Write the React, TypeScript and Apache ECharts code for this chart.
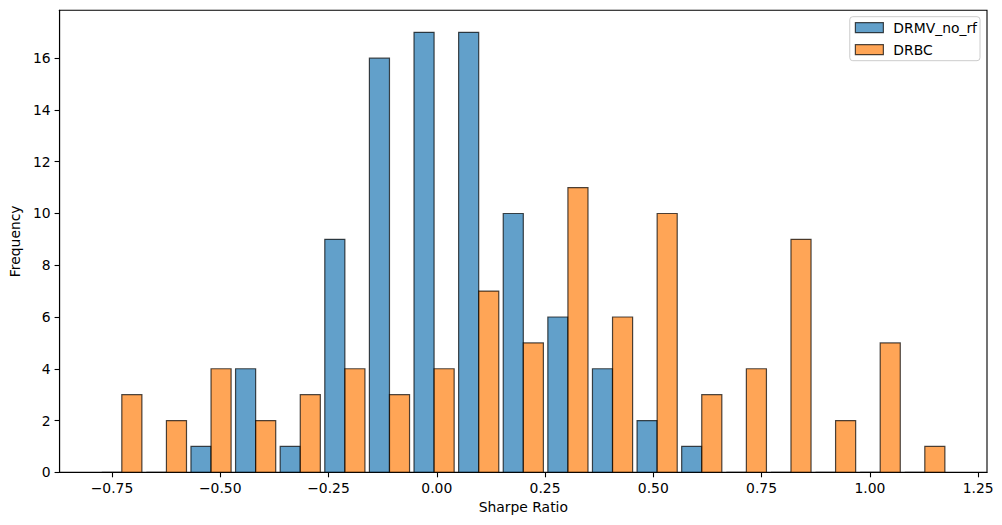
import React, { useEffect, useRef } from "react";
import * as echarts from "echarts";

// Histogram bins (Sharpe Ratio), 19 bins
const binStart = -0.7788;
const binWidth = 0.10301;
const drmvCounts = [0, 0, 1, 4, 1, 9, 16, 17, 17, 10, 6, 4, 2, 1, 0, 0, 0, 0, 0];
const drbcCounts = [3, 2, 4, 2, 3, 4, 3, 4, 7, 5, 11, 6, 10, 3, 4, 9, 2, 5, 1];
const xTicks = [-0.75, -0.5, -0.25, 0, 0.25, 0.5, 0.75, 1.0, 1.25];
const yTicks = [0, 2, 4, 6, 8, 10, 12, 14, 16];
const seriesNames = ["DRMV_no_rf", "DRBC"];

const FONT = "DejaVu Sans";
const FS = 13.9;
const blueFill = "rgba(31,119,180,0.7)";
const orangeFill = "rgba(255,127,14,0.7)";
const edge = "rgba(0,0,0,0.7)";

function barData(counts: number[], which: number) {
  return counts.map((c, i) => {
    const left = binStart + i * binWidth;
    const a = which === 0 ? left + 0.05 * binWidth : left + 0.5 * binWidth;
    const b = which === 0 ? left + 0.5 * binWidth : left + 0.95 * binWidth;
    return [a, b, c];
  });
}

function makeRender(fill: string) {
  return (params: any, api: any) => {
    const p0 = api.coord([api.value(0), api.value(2)]);
    const p1 = api.coord([api.value(1), 0]);
    return {
      type: "rect",
      shape: { x: p0[0], y: p0[1], width: p1[0] - p0[0], height: p1[1] - p0[1] },
      style: { fill, stroke: edge, lineWidth: 1.2 },
    };
  };
}

export default function App() {
  const ref = useRef<HTMLDivElement>(null);
  useEffect(() => {
    if (!ref.current) return;
    const chart = echarts.init(ref.current, null, { renderer: "svg" });
    const fmt = (v: number) => {
      const s = Math.abs(v).toFixed(2);
      return v < 0 ? "\u2212" + s : s;
    };
    chart.setOption({
      animation: false,
      backgroundColor: "#ffffff",
      textStyle: { fontFamily: FONT },
      grid: {
        left: 57.3,
        right: 15,
        top: 10.3,
        bottom: 52.7,
        show: true,
        borderColor: "#000",
        borderWidth: 1.1,
        backgroundColor: "transparent",
      },
      legend: {
        orient: "vertical",
        right: 22,
        top: 16.7,
        itemWidth: 28,
        itemHeight: 10,
        itemGap: 8,
        padding: [4, 3, 4, 5],
        backgroundColor: "rgba(255,255,255,0.8)",
        borderColor: "#cccccc",
        borderWidth: 1,
        borderRadius: 3,
        icon: "rect",
        textStyle: { fontFamily: FONT, fontSize: FS, color: "#000", padding: [0, 0, 0, 5] },
        data: [
          { name: seriesNames[0], itemStyle: { color: blueFill, borderColor: edge, borderWidth: 1.2 } },
          { name: seriesNames[1], itemStyle: { color: orangeFill, borderColor: edge, borderWidth: 1.2 } },
        ],
      },
      xAxis: {
        type: "value",
        min: -0.871,
        max: 1.2705,
        position: "bottom",
        name: "Sharpe Ratio",
        nameLocation: "middle",
        nameGap: 27,
        nameTextStyle: { fontFamily: FONT, fontSize: FS, color: "#000" },
        axisLine: { show: true, onZero: false, lineStyle: { color: "#000", width: 1.1 } },
        axisTick: { show: true, inside: false, length: 5, lineStyle: { color: "#000", width: 1.1 }, customValues: xTicks },
        axisLabel: {
          show: true,
          margin: 9,
          fontFamily: FONT,
          fontSize: FS,
          color: "#000",
          customValues: xTicks,
          formatter: (v: number) => fmt(v),
        },
        splitLine: { show: false },
      },
      yAxis: {
        type: "value",
        min: 0,
        max: 17.85,
        position: "left",
        name: "Frequency",
        nameLocation: "middle",
        nameGap: 33,
        nameRotate: 90,
        nameTextStyle: { fontFamily: FONT, fontSize: FS, color: "#000" },
        axisLine: { show: true, onZero: false, lineStyle: { color: "#000", width: 1.1 } },
        axisTick: { show: true, inside: false, length: 5, lineStyle: { color: "#000", width: 1.1 }, customValues: yTicks },
        axisLabel: {
          show: true,
          margin: 9,
          fontFamily: FONT,
          fontSize: FS,
          color: "#000",
          customValues: yTicks,
          formatter: (v: number) => String(v),
        },
        splitLine: { show: false },
      },
      series: [
        {
          name: seriesNames[0],
          type: "custom",
          renderItem: makeRender(blueFill),
          itemStyle: { color: blueFill, borderColor: edge },
          encode: { x: [0, 1], y: 2 },
          data: barData(drmvCounts, 0),
        },
        {
          name: seriesNames[1],
          type: "custom",
          renderItem: makeRender(orangeFill),
          itemStyle: { color: orangeFill, borderColor: edge },
          encode: { x: [0, 1], y: 2 },
          data: barData(drbcCounts, 1),
        },
      ],
    });
    return () => chart.dispose();
  }, []);
  return (
    <div
      ref={ref}
      style={{ position: "fixed", left: 0, top: 0, width: 1002, height: 525, background: "#fff" }}
    />
  );
}
